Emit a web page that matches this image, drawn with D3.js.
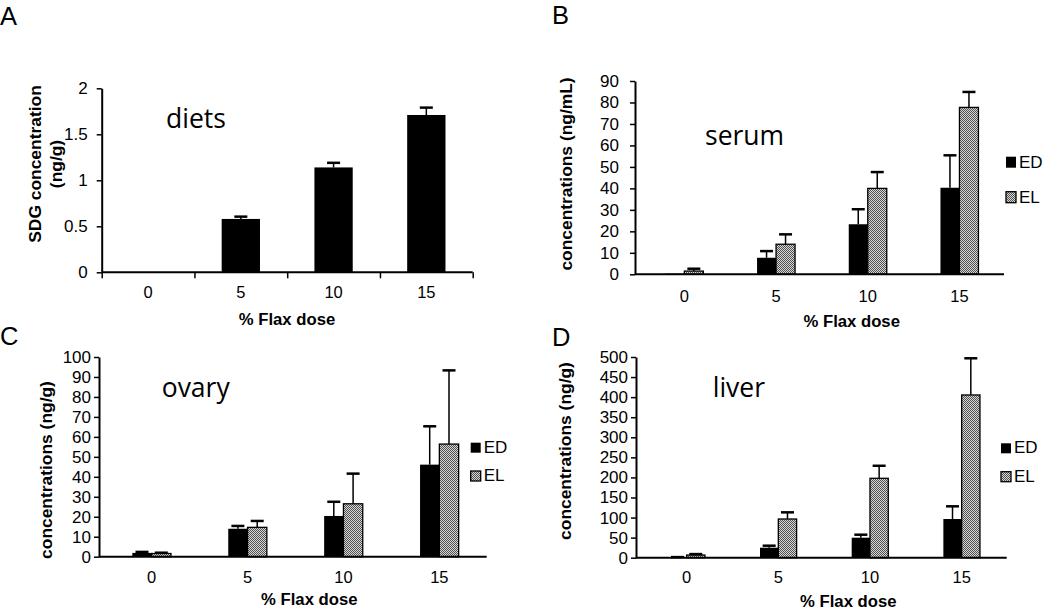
<!DOCTYPE html>
<html><head><meta charset="utf-8">
<script src="https://cdn.jsdelivr.net/npm/d3@7"></script>
<style>body{margin:0;background:#fff}</style>
</head><body>
<svg id="c" width="1050" height="609"></svg>
<script>
// ---- data ----
const doses = ["0", "5", "10", "15"];
const seriesNames = ["ED", "EL"];
const dietSDG = [0, 0.58, 1.14, 1.71];
const dietSDGErr = [0, 0.025, 0.05, 0.08];
const serumED = [0.3, 7.7, 23.3, 40.3];
const serumEDErr = [0, 3.1, 7.0, 15.1];
const serumEL = [1.5, 14.0, 40.0, 77.7];
const serumELErr = [1.1, 4.6, 7.6, 7.2];
const ovaryED = [1.9, 14.0, 20.4, 46.1];
const ovaryEDErr = [0.5, 1.4, 7.1, 19.2];
const ovaryEL = [1.6, 14.7, 26.5, 56.4];
const ovaryELErr = [0.4, 3.2, 15.1, 36.9];
const liverED = [1.0, 24.9, 49.8, 96.4];
const liverEDErr = [0.5, 5.0, 7.5, 31.6];
const liverEL = [6.6, 96.4, 197.8, 405.4];
const liverELErr = [2.4, 16.6, 31.2, 91.4];
const dietTicks = [0, 0.5, 1, 1.5, 2];
const serumTicks = [0, 10, 20, 30, 40, 50, 60, 70, 80, 90];
const ovaryTicks = [0, 10, 20, 30, 40, 50, 60, 70, 80, 90, 100];
const liverTicks = [0, 50, 100, 150, 200, 250, 300, 350, 400, 450, 500];
const xTitle = "% Flax dose";

// ---- drawing ----
const ARIAL = "Liberation Sans, Arial, sans-serif";
const CALIBRI = "Open Sans, sans-serif";
const svg = d3.select("#c");
const defs = svg.append("defs");
const pat = defs.append("pattern").attr("id", "dots").attr("width", 2).attr("height", 2)
  .attr("patternUnits", "userSpaceOnUse");
pat.append("rect").attr("width", 2).attr("height", 2).attr("fill", "#d8d8d8");
pat.append("rect").attr("width", 1).attr("height", 1).attr("fill", "#505050");
pat.append("rect").attr("x", 1).attr("y", 1).attr("width", 1).attr("height", 1).attr("fill", "#505050");

const fills = ["#000", "url(#dots)"];

const panels = [
  { letter: "A", lx: 0, ly: 25, name: "diets", nx: 166, ny: 128,
    series: [{ v: dietSDG, e: dietSDGErr }], ticks: dietTicks, yDomain: [0, 2],
    yAxisX: 101.7, xRange: [101.7, 472.7], xEnd: 472.7, yRange: [272.3, 88.3],
    barW: 38.3, tickPad: 9, xPad: 14, xTicks: true,
    yTitle: ["SDG concentration", "(ng/g)"], ytx: 41, ytGap: 21, yty: 164,
    xtx: 287, xty: 325, legend: null },
  { letter: "B", lx: 552, ly: 24, name: "serum", nx: 705, ny: 145,
    series: [{ v: serumED, e: serumEDErr }, { v: serumEL, e: serumELErr }], ticks: serumTicks, yDomain: [0, 90],
    yAxisX: 635, xRange: [638.5, 1005.3], xEnd: 1004, yRange: [274.3, 81],
    barW: 19, tickPad: 11, xPad: 15.5, xTicks: false,
    yTitle: ["concentrations (ng/mL)"], ytx: 572, ytGap: 0, yty: 174,
    xtx: 851.7, xty: 327, legend: { x: 1006, y: [156.7, 191.7], w: 10, h: 11 } },
  { letter: "C", lx: 0, ly: 345, name: "ovary", nx: 161.7, ny: 396.7,
    series: [{ v: ovaryED, e: ovaryEDErr }, { v: ovaryEL, e: ovaryELErr }], ticks: ovaryTicks, yDomain: [0, 100],
    yAxisX: 99, xRange: [103.7, 487.3], xEnd: 486.7, yRange: [556.7, 357],
    barW: 19.3, tickPad: 3, xPad: 14.5, xTicks: false,
    yTitle: ["concentrations (ng/g)"], ytx: 52, ytGap: 0, yty: 470,
    xtx: 309.3, xty: 605, legend: { x: 470.7, y: [442.7, 471], w: 10, h: 10 } },
  { letter: "D", lx: 552, ly: 346, name: "liver", nx: 712.7, ny: 396.7,
    series: [{ v: liverED, e: liverEDErr }, { v: liverEL, e: liverELErr }], ticks: liverTicks, yDomain: [0, 500],
    yAxisX: 636, xRange: [640.8, 1007.5], xEnd: 1006.7, yRange: [557.7, 357],
    barW: 18.3, tickPad: 3, xPad: 14, xTicks: false,
    yTitle: ["concentrations (ng/g)"], ytx: 571, ytGap: 0, yty: 451,
    xtx: 848.3, xty: 606.5, legend: { x: 1001, y: [443.3, 471.7], w: 10, h: 10 } }
];

function drawPanel(p) {
  const x = d3.scaleBand().domain(doses).range(p.xRange);
  const y = d3.scaleLinear().domain(p.yDomain).range(p.yRange);
  const g = svg.append("g");

  // y axis
  const ya = g.append("g").attr("transform", `translate(${p.yAxisX},0)`)
    .call(d3.axisLeft(y).tickValues(p.ticks).tickSize(5).tickSizeOuter(0)
      .tickPadding(p.tickPad).tickFormat(d3.format("~g")))
    .attr("font-family", ARIAL).attr("font-size", 17);
  ya.select(".domain").attr("stroke", "#000").attr("stroke-width", 2);
  ya.selectAll(".tick line").attr("stroke", "#000").attr("stroke-width", 1.5);
  ya.selectAll(".tick text").attr("fill", "#000");

  // bars
  const n = p.series.length;
  p.series.forEach((s, i) => {
    const offs = -n * p.barW / 2 + i * p.barW;
    const cx = d => x(d) + x.bandwidth() / 2 + offs + p.barW / 2;
    g.append("g").selectAll("rect").data(doses).join("rect")
      .attr("x", d => x(d) + x.bandwidth() / 2 + offs)
      .attr("y", (d, j) => y(s.v[j]))
      .attr("width", p.barW)
      .attr("height", (d, j) => y(0) - y(s.v[j]))
      .attr("fill", fills[i])
      .attr("stroke", i === 1 ? "#000" : "none")
      .attr("stroke-width", 1.3);
    const idx = d => doses.indexOf(d);
    const eg = g.append("g").selectAll("g").data(doses.filter((d, j) => s.e[j] > 0)).join("g");
    eg.append("line")
      .attr("x1", cx).attr("x2", cx)
      .attr("y1", d => y(s.v[idx(d)]))
      .attr("y2", d => y(s.v[idx(d)] + s.e[idx(d)]))
      .attr("stroke", "#000").attr("stroke-width", 1.5);
    eg.append("line")
      .attr("x1", d => cx(d) - 6.5).attr("x2", d => cx(d) + 6.5)
      .attr("y1", d => y(s.v[idx(d)] + s.e[idx(d)]))
      .attr("y2", d => y(s.v[idx(d)] + s.e[idx(d)]))
      .attr("stroke", "#000").attr("stroke-width", 2.5);
  });

  // x axis line
  g.append("line").attr("x1", p.yAxisX).attr("x2", p.xEnd)
    .attr("y1", y(0)).attr("y2", y(0)).attr("stroke", "#000").attr("stroke-width", 2);
  if (p.xTicks) {
    const xb = d3.scaleLinear().domain([0, doses.length]).range(p.xRange);
    const xt = g.append("g").attr("transform", `translate(0,${y(0)})`)
      .call(d3.axisBottom(xb).ticks(doses.length).tickSize(6).tickFormat(""));
    xt.select(".domain").remove();
    xt.selectAll(".tick line").attr("stroke", "#000").attr("stroke-width", 1.5);
  }
  const xa = g.append("g").attr("transform", `translate(0,${y(0)})`)
    .call(d3.axisBottom(x).tickSize(0).tickPadding(p.xPad))
    .attr("font-family", ARIAL).attr("font-size", 16.5);
  xa.select(".domain").remove();
  xa.selectAll(".tick text").attr("fill", "#000");

  // titles
  g.append("text").attr("x", p.xtx).attr("y", p.xty).attr("text-anchor", "middle")
    .attr("font-family", ARIAL).attr("font-weight", "bold").attr("font-size", 16.7)
    .text(xTitle);
  p.yTitle.forEach((t, k) => {
    g.append("text")
      .attr("transform", `translate(${p.ytx + k * p.ytGap},${p.yty}) rotate(-90)`)
      .attr("text-anchor", "middle")
      .attr("font-family", ARIAL).attr("font-weight", "bold").attr("font-size", 17.4)
      .text(t);
  });
  g.append("text").attr("x", p.nx).attr("y", p.ny).attr("font-family", CALIBRI)
    .attr("font-size", 26.5).text(p.name);
  g.append("text").attr("x", p.lx).attr("y", p.ly).attr("font-family", ARIAL)
    .attr("font-size", 25.5).text(p.letter);

  // legend
  if (p.legend) {
    seriesNames.forEach((nm, i) => {
      g.append("rect").attr("x", p.legend.x).attr("y", p.legend.y[i])
        .attr("width", p.legend.w).attr("height", p.legend.h)
        .attr("fill", fills[i]).attr("stroke", i === 1 ? "#000" : "none").attr("stroke-width", 1.3);
      g.append("text").attr("x", p.legend.x + p.legend.w + 3).attr("y", p.legend.y[i] + p.legend.h)
        .attr("font-family", ARIAL).attr("font-size", 17).text(nm);
    });
  }
}
panels.forEach(drawPanel);
</script>
</body></html>
